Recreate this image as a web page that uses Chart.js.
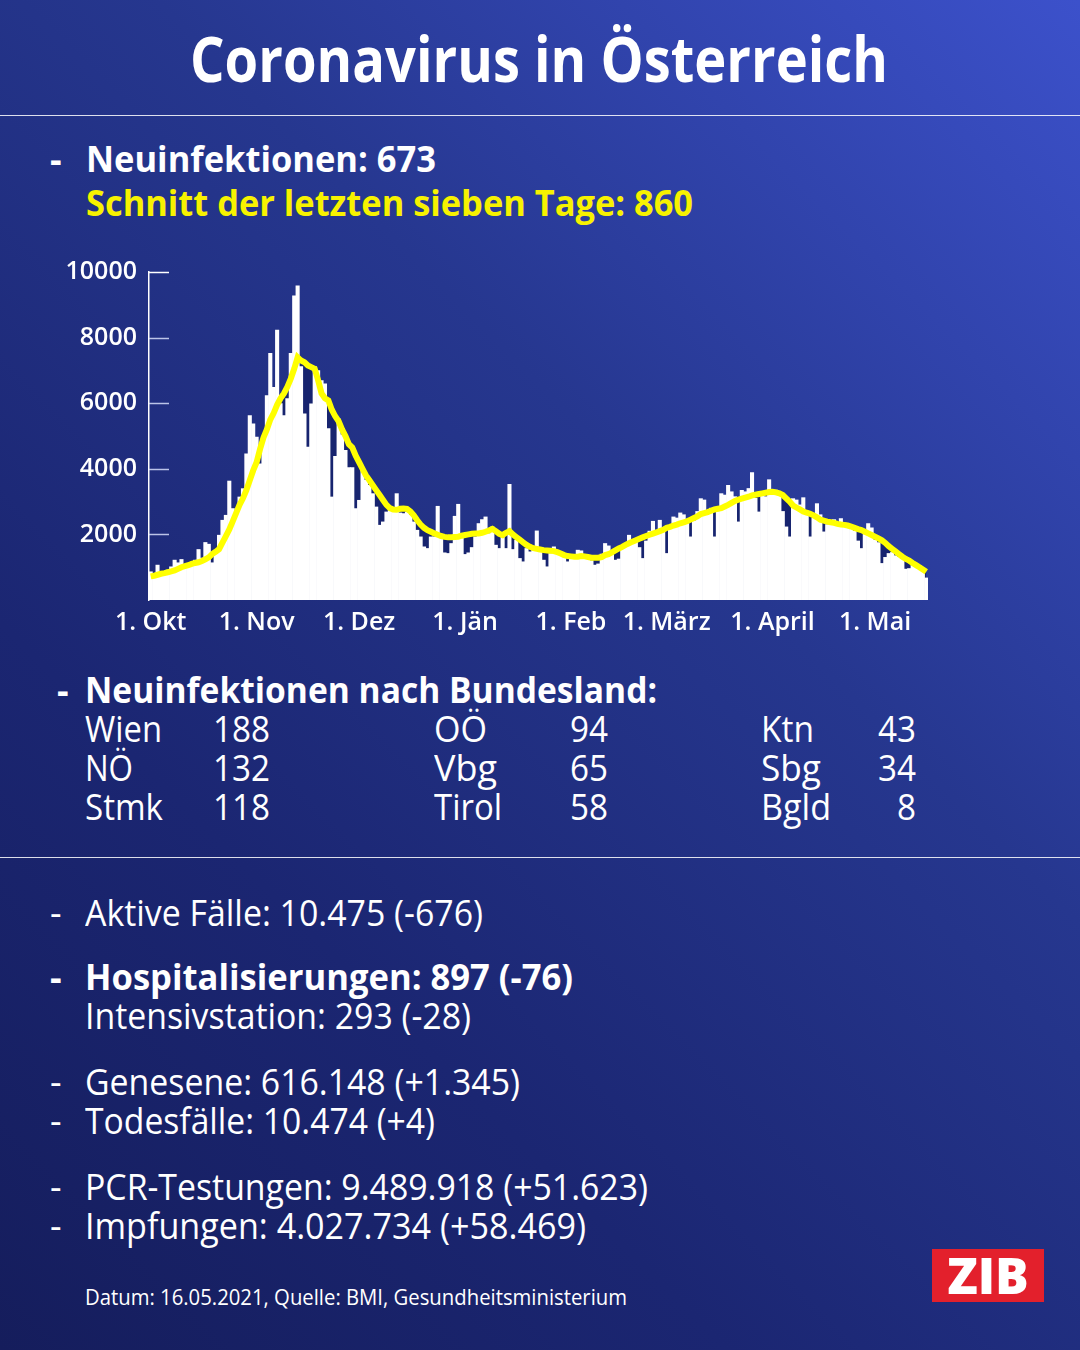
<!DOCTYPE html>
<html lang="de">
<head>
<meta charset="UTF-8">
<title>Coronavirus in Österreich</title>
<script src="https://cdn.jsdelivr.net/npm/chart.js"></script>
<style>
  html, body { margin: 0; padding: 0; }
  body {
    width: 1080px; height: 1350px; position: relative; overflow: hidden;
    font-family: 'Open Sans', 'Noto Sans', sans-serif; color: #fff;
    background: linear-gradient(225deg, #3c51cb 0%, #26378f 38%, #1b2672 70%, #151d5c 100%);
  }
  .t { position: absolute; white-space: nowrap; line-height: 1; transform-origin: left top; }
  .b { font-weight: 700; }
  .rule { position: absolute; left: 0; width: 1080px; height: 1px; background: rgba(255,255,255,0.85); }
  .chart-box { position: absolute; left: 40px; top: 245px; width: 920px; height: 405px; }
  .zib {
    position: absolute; left: 932px; top: 1249px; width: 112px; height: 53px; background: #e3202c;
    font-family: 'Open Sans', sans-serif; font-weight: 800; font-size: 50px; line-height: 53px;
    text-align: center; color: #fff;
  }
</style>
</head>
<body>
<div class="t b" style="font-size:62px; top:27px; left:190px;" data-w="698">Coronavirus in Österreich</div>
<div class="rule" style="top:115px;"></div>

<div class="t b" style="font-size:36px; top:141px; left:50px;">-</div>
<div class="t b" style="font-size:36px; top:141px; left:86px;" data-w="350">Neuinfektionen: 673</div>
<div class="t b" style="font-size:36px; top:185px; left:86px; color:#f7f200;" data-w="607">Schnitt der letzten sieben Tage: 860</div>

<div class="chart-box"><canvas id="casesChart"></canvas></div>

<div class="t b" style="font-size:36px; top:672px; left:57px;">-</div>
<div class="t b" style="font-size:36px; top:672px; left:85px;" data-w="572">Neuinfektionen nach Bundesland:</div>
<div id="states"></div>

<div class="rule" style="top:857px;"></div>

<div id="facts"></div>

<div class="t" style="font-size:21px; top:1287px; left:85px;" data-w="542">Datum: 16.05.2021, Quelle: BMI, Gesundheitsministerium</div>
<div class="zib">ZIB</div>

<script>
// Monate im Diagramm (1. Okt 2020 bis 16. Mai 2021)
const monthLabels = ['1. Okt', '1. Nov', '1. Dez', '1. Jän', '1. Feb', '1. März', '1. April', '1. Mai'];
const monthNums = [10, 11, 12, 1, 2, 3, 4, 5];
const monthDays = [31, 30, 31, 31, 28, 31, 30, 16];
const yTicks = [2000, 4000, 6000, 8000, 10000];

// tägliche Neuinfektionen
const dailyCases = [
  860, 700, 1064, 820, 860, 912, 1012, 1216, 1135, 1236, 973, 1064, 1050, 1216, 1540, 1277,
  1754, 1702, 1135, 1470, 1976, 2432, 2584, 3627, 2788, 2635, 3141, 3395, 4460, 5624, 5370,
  4966, 4155, 4966, 6232, 7518, 6485, 8229, 5989, 5624, 6140, 7518, 9272, 9576, 7114, 5675,
  4660, 5979, 7114, 6992, 6688, 6587, 5229, 3141, 4378, 5523, 5037, 4560, 4034, 4034, 2787,
  3040, 4003, 3650, 3496, 3243, 2837, 2280, 2381, 2685, 2736, 2685, 3243, 2655, 2635, 2685,
  2584, 2381, 2128, 1925, 1621, 1571, 1925, 1925, 2858, 1875, 1439, 1419, 1723, 2554, 2919, 2027,
  1389, 1438, 1601, 1925, 2331, 2452, 2533, 2027, 2229, 1672, 1571, 1925, 1571, 3526, 1540,
  1824, 1267, 1165, 1571, 1469, 1520, 2107, 1500, 1216, 1013, 1419, 1621, 1469, 1419, 1368, 1165,
  1267, 1368, 1520, 1500, 1317, 1317, 1200, 1064, 1100, 1400, 1723, 1650, 1500, 1216, 1250,
  1600, 1700, 1976, 1850, 1800, 1600, 1267, 1800, 2100, 2401, 2128, 2432, 2200,
  1419, 2200, 2533, 2500, 2655, 2600, 2400, 1925, 2400, 2700, 3090, 3050, 2600, 2800, 1925,
  2700, 3243, 3200, 3496, 3300, 3150, 2381, 3344, 3300, 3400, 3881, 3100, 2685, 3200, 3150, 3668,
  3300, 3350, 3250, 2700, 2229, 1925, 3090, 3050, 2900, 3120, 2600, 1925, 2500, 2938, 2600,
  2077, 2300, 2432, 2450, 2300, 2483, 2350, 2300, 2200, 2100, 1800, 1570, 2000, 2330, 2200,
  1824, 1750, 1115, 1300, 1419, 1450, 1350, 1300, 1267, 942, 960, 1150, 1094, 1050, 942, 673
];

// Schnitt der letzten sieben Tage
const sevenDayAvg = [
  720, 740, 770, 800, 820, 845, 870, 900, 950, 1000, 1030, 1060, 1100, 1130, 1150, 1190,
  1240, 1300, 1400, 1470, 1550, 1750, 1950, 2150, 2400, 2650, 2900, 3100, 3350, 3650, 3950,
  4200, 4600, 4950, 5200, 5500, 5700, 5950, 6150, 6300, 6500, 6750, 7050, 7400, 7300, 7250,
  7150, 7100, 7050, 6700, 6300, 6150, 6080, 5800, 5600, 5450, 5200, 5000, 4750, 4650, 4400,
  4200, 4000, 3800, 3650, 3500, 3350, 3200, 3050, 2900, 2800, 2760, 2750, 2780, 2790, 2780,
  2700, 2580, 2430, 2300, 2200, 2130, 2080, 2030, 1990, 1950, 1925, 1910, 1910, 1920, 1930, 1960,
  1980, 2000, 2020, 2030, 2030, 2050, 2080, 2120, 2170, 2100, 2020, 1980, 2050, 2100, 2000,
  1920, 1840, 1760, 1680, 1620, 1580, 1560, 1540, 1520, 1510, 1500, 1490, 1460, 1420, 1370, 1340,
  1330, 1320, 1320, 1340, 1330, 1310, 1290, 1285, 1290, 1310, 1368, 1400, 1450, 1510, 1570,
  1620, 1680, 1730, 1780, 1824, 1870, 1910, 1950, 1990, 2026, 2060, 2100, 2140,
  2200, 2230, 2270, 2300, 2340, 2370, 2400, 2450, 2500, 2550, 2620, 2650, 2680, 2720, 2760,
  2780, 2800, 2850, 2900, 2960, 3020, 3060, 3090, 3120, 3150, 3190, 3210, 3230, 3250, 3270, 3290,
  3300, 3280, 3250, 3200, 3100, 3000, 2880, 2820, 2760, 2700, 2660, 2630, 2580, 2520, 2450,
  2420, 2390, 2370, 2350, 2320, 2300, 2290, 2270, 2240, 2200, 2160, 2130, 2080, 2030, 1980,
  1930, 1880, 1820, 1740, 1640, 1560, 1480, 1400, 1320, 1250, 1200, 1130, 1064, 1000, 930, 860
];

// Bundesländer
const states = [
  ['Wien', '188'], ['NÖ', '132'], ['Stmk', '118'],
  ['OÖ', '94'], ['Vbg', '65'], ['Tirol', '58'],
  ['Ktn', '43'], ['Sbg', '34'], ['Bgld', '8']
];

const facts = [
  { dash: true,  bold: false, text: 'Aktive Fälle: 10.475 (-676)', top: 895, w: 398 },
  { dash: true,  bold: true,  text: 'Hospitalisierungen: 897 (-76)', top: 959, w: 488 },
  { dash: false, bold: false, text: 'Intensivstation: 293 (-28)', top: 998, w: 386 },
  { dash: true,  bold: false, text: 'Genesene: 616.148 (+1.345)', top: 1064, w: 435 },
  { dash: true,  bold: false, text: 'Todesfälle: 10.474 (+4)', top: 1103, w: 350 },
  { dash: true,  bold: false, text: 'PCR-Testungen: 9.489.918 (+51.623)', top: 1169, w: 563 },
  { dash: true,  bold: false, text: 'Impfungen: 4.027.734 (+58.469)', top: 1208, w: 501 }
];

// Tagesbeschriftungen
const dayLabels = [];
const tickAt = {};
monthDays.forEach((n, mi) => {
  for (let d = 1; d <= n; d++) {
    if (d === 1) tickAt[dayLabels.length] = monthLabels[mi];
    dayLabels.push(d + '.' + monthNums[mi] + '.');
  }
});

// Textblöcke
function addText(parent, txt, left, top, size, bold, w) {
  const el = document.createElement('div');
  el.className = 't' + (bold ? ' b' : '');
  el.style.fontSize = size + 'px';
  el.style.left = left + 'px';
  el.style.top = top + 'px';
  el.textContent = txt;
  if (w) el.dataset.w = w;
  parent.appendChild(el);
}

const statesEl = document.getElementById('states');
const colX = [[85, 213], [434, 570], [761, 878]];
const nameW = { 'Wien': 77, 'NÖ': 48, 'Stmk': 78, 'OÖ': 53, 'Vbg': 63, 'Tirol': 68, 'Ktn': 53, 'Sbg': 60, 'Bgld': 70 };
states.forEach((s, i) => {
  const col = Math.floor(i / 3), row = i % 3;
  const top = 711 + row * 39;
  addText(statesEl, s[0], colX[col][0], top, 36, false, nameW[s[0]]);
  const numW = s[1].length * 19;
  const numLeft = col === 2 ? 916 - numW : colX[col][1];
  addText(statesEl, s[1], numLeft, top, 36, false, numW);
});

const factsEl = document.getElementById('facts');
facts.forEach(f => {
  if (f.dash) addText(factsEl, '-', 50, f.top, 36, f.bold);
  addText(factsEl, f.text, 85, f.top, 36, f.bold, f.w);
});

document.querySelectorAll('[data-w]').forEach(el => {
  const natural = el.getBoundingClientRect().width;
  el.style.transform = 'scaleX(' + (el.dataset.w / natural) + ')';
});

// kurze Striche innen an der y-Achse
const innerTicks = {
  id: 'innerTicks',
  afterDraw(chart) {
    const y = chart.scales.y;
    const ctx = chart.ctx;
    ctx.save();
    ctx.lineWidth = 1.5;
    yTicks.forEach(v => {
      const py = Math.round(y.getPixelForValue(v)) + 0.5;
      ctx.strokeStyle = v === 10000 ? '#ffffff' : 'rgba(215,222,250,0.85)';
      ctx.beginPath();
      ctx.moveTo(chart.chartArea.left, py);
      ctx.lineTo(chart.chartArea.left + 20, py);
      ctx.stroke();
    });
    ctx.restore();
  }
};

const tickFont = { family: "'Open Sans', sans-serif", size: 25, weight: '600' };

new Chart(document.getElementById('casesChart'), {
  type: 'bar',
  data: {
    labels: dayLabels,
    datasets: [
      {
        type: 'line',
        label: 'Schnitt sieben Tage',
        data: sevenDayAvg,
        borderColor: '#ffff00',
        borderWidth: 6,
        pointRadius: 0,
        tension: 0,
        fill: false,
        order: 0
      },
      {
        label: 'Neuinfektionen',
        data: dailyCases,
        backgroundColor: '#ffffff',
        barPercentage: 1.0,
        categoryPercentage: 1.0,
        order: 1
      },
      {
        type: 'line',
        label: 'Schatten',
        data: sevenDayAvg,
        borderWidth: 0,
        pointRadius: 0,
        tension: 0,
        fill: 'origin',
        backgroundColor: '#17246f',
        order: 2
      }
    ]
  },
  options: {
    responsive: true,
    maintainAspectRatio: false,
    animation: false,
    layout: { padding: { left: 0, right: 32, top: 11, bottom: 0 } },
    plugins: { legend: { display: false }, tooltip: { enabled: false } },
    scales: {
      x: {
        grid: { display: false, drawTicks: false },
        border: { display: false },
        ticks: {
          color: '#ffffff',
          font: tickFont,
          autoSkip: false,
          maxRotation: 0,
          padding: 8,
          callback: (v, i) => (tickAt[i] !== undefined ? tickAt[i] : null)
        },
        afterFit: s => { s.height = 50; }
      },
      y: {
        min: 0,
        max: 10000,
        grid: { display: false, drawTicks: false },
        border: { display: true, color: '#ffffff', width: 1.5 },
        ticks: {
          color: '#ffffff',
          font: tickFont,
          padding: 12,
          stepSize: 2000,
          callback: v => (yTicks.includes(v) ? String(v) : null)
        },
        afterFit: s => { s.width = 109; }
      }
    }
  },
  plugins: [innerTicks]
});
</script>
</body>
</html>
